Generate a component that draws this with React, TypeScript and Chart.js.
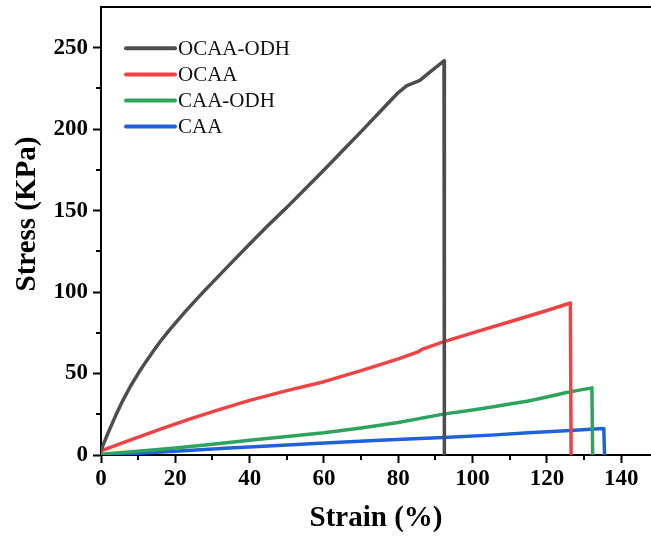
import React, { useEffect, useRef } from "react";
import { Chart, registerables } from "chart.js";

Chart.register(...registerables);

const seriesLabels = ["OCAA-ODH", "OCAA", "CAA-ODH", "CAA"];
const seriesColors = ["#4d4d4d", "#ef4242", "#2ea35e", "#1d63d6"];

const ocaaOdhStrain = [0, 2, 4, 6, 8, 10, 12, 14, 16, 18, 20, 22.5, 25, 28, 31.5, 35, 40, 45, 50, 55, 60, 65, 70, 75, 80, 82.3, 84, 85.8, 89, 92.3, 92.4];
const ocaaOdhStress = [3, 14, 24.5, 34, 42.5, 50, 57, 63.5, 69.8, 75.6, 81, 87.5, 93.8, 101.2, 109.5, 117.8, 129.5, 141, 152, 163.5, 175, 186.8, 198.5, 210.5, 222.5, 226.7, 228.3, 230, 236, 242, 0];

const ocaaStrain = [0, 8, 16, 24, 32, 40, 50, 60, 70, 80, 85.5, 86.5, 92.1, 100, 110, 120, 126.3, 126.5];
const ocaaStress = [2.5, 9.3, 15.9, 22.2, 28, 33.5, 39.5, 45, 51.8, 59, 63.5, 65, 69.4, 75, 81.8, 88.7, 93.3, 0];

const caaOdhStrain = [0, 10, 20, 30, 40, 50, 60, 70, 80, 92.1, 100, 105.6, 110, 115, 120, 125, 128, 132.1, 132.3];
const caaOdhStress = [0.5, 2.3, 4.3, 6.6, 9, 11.4, 13.7, 16.6, 20, 25.1, 27.6, 29.6, 31.3, 33.2, 35.6, 38.2, 39.5, 41.2, 0];

const caaStrain = [0, 10, 20, 33.3, 45, 58.9, 75, 92.1, 105, 115, 125, 135.3, 135.5];
const caaStress = [0, 1.1, 2.3, 4.1, 5.5, 7.2, 9, 10.8, 12.2, 13.6, 14.9, 16.3, 0];

const xTickValues = [0, 20, 40, 60, 80, 100, 120, 140];
const yTickValues = [0, 50, 100, 150, 200, 250];
const xMinorTicks = [10, 30, 50, 70, 90, 110, 130];
const yMinorTicks = [25, 75, 125, 175, 225];

const xTitle = "Strain (%)";
const yTitle = "Stress (KPa)";

const SERIF = '"Liberation Serif", "Times New Roman", serif';

function pairs(xs: number[], ys: number[]) {
  return xs.map((x, i) => ({ x, y: ys[i] }));
}

const framePlugin = {
  id: "frameAndLegend",
  afterDraw(chart: any) {
    const { ctx, chartArea, scales } = chart;
    const { left, right, top, bottom } = chartArea;
    const x = scales.x;
    const y = scales.y;
    ctx.save();
    ctx.strokeStyle = "#000";
    ctx.lineWidth = 2;
    ctx.beginPath();
    ctx.moveTo(left - 1, top);
    ctx.lineTo(right, top);
    for (const v of xMinorTicks) {
      const px = Math.round(x.getPixelForValue(v));
      ctx.moveTo(px, bottom);
      ctx.lineTo(px, bottom + 5);
    }
    for (const v of yMinorTicks) {
      const py = Math.round(y.getPixelForValue(v));
      ctx.moveTo(left, py);
      ctx.lineTo(left - 5, py);
    }
    ctx.stroke();

    // legend
    const ds = chart.data.datasets;
    ctx.font = `21px ${SERIF}`;
    ctx.textBaseline = "middle";
    ctx.textAlign = "left";
    ds.forEach((d: any, i: number) => {
      const cy = top + 41.3 + i * 26.1;
      ctx.strokeStyle = d.borderColor;
      ctx.lineWidth = 4;
      ctx.lineCap = "round";
      ctx.beginPath();
      ctx.moveTo(left + 25, cy);
      ctx.lineTo(left + 74, cy);
      ctx.stroke();
      ctx.fillStyle = "#111";
      ctx.fillText(d.label, left + 77, cy + 1);
    });

    // y title
    ctx.translate(28, 214);
    ctx.rotate(-Math.PI / 2);
    ctx.font = `bold 29px ${SERIF}`;
    ctx.textAlign = "center";
    ctx.textBaseline = "middle";
    ctx.fillStyle = "#000";
    ctx.fillText(yTitle, 0, 0);
    ctx.restore();
  },
};

export default function App() {
  const canvasRef = useRef<HTMLCanvasElement | null>(null);

  useEffect(() => {
    const canvas = canvasRef.current;
    if (!canvas) return;
    const xs = [ocaaOdhStrain, ocaaStrain, caaOdhStrain, caaStrain];
    const ys = [ocaaOdhStress, ocaaStress, caaOdhStress, caaStress];
    const chart = new Chart(canvas, {
      type: "line",
      data: {
        datasets: seriesLabels.map((label, i) => ({
          label,
          data: pairs(xs[i], ys[i]),
          borderColor: seriesColors[i],
          backgroundColor: seriesColors[i],
          borderWidth: 3.5,
          pointRadius: 0,
          tension: 0,
          fill: false,
          borderJoinStyle: "round",
        })),
      },
      options: {
        animation: false,
        responsive: true,
        maintainAspectRatio: false,
        layout: { padding: { top: 7, right: 0, left: 0, bottom: 0 } },
        plugins: {
          legend: { display: false },
          tooltip: { enabled: false },
        },
        scales: {
          x: {
            type: "linear",
            min: 0,
            max: 148,
            afterBuildTicks: (scale: any) => {
              scale.ticks = xTickValues.map((v) => ({ value: v }));
            },
            afterFit: (scale: any) => {
              scale.height = 82;
              scale.paddingLeft = 0;
              scale.paddingRight = 0;
            },
            ticks: {
              font: { family: SERIF, size: 23, weight: "bold" },
              color: "#000",
              padding: 2,
              maxRotation: 0,
              autoSkip: false,
            },
            grid: {
              drawOnChartArea: false,
              drawTicks: true,
              tickLength: 8,
              tickWidth: 2,
              tickColor: "#000",
            },
            border: { display: true, color: "#000", width: 2 },
            title: {
              display: true,
              text: xTitle,
              font: { family: SERIF, size: 29, weight: "bold" },
              color: "#000",
              padding: { top: 0, bottom: 1 },
            },
          },
          y: {
            type: "linear",
            min: 0,
            max: 275,
            afterBuildTicks: (scale: any) => {
              scale.ticks = yTickValues.map((v) => ({ value: v }));
            },
            afterFit: (scale: any) => {
              scale.width = 101;
              scale.paddingTop = 0;
              scale.paddingBottom = 0;
            },
            ticks: {
              font: { family: SERIF, size: 23, weight: "bold" },
              color: "#000",
              padding: 5,
              autoSkip: false,
            },
            grid: {
              drawOnChartArea: false,
              drawTicks: true,
              tickLength: 8,
              tickWidth: 2,
              tickColor: "#000",
            },
            border: { display: true, color: "#000", width: 2 },
            title: { display: false },
          },
        },
      },
      plugins: [framePlugin],
    } as any);
    return () => chart.destroy();
  }, []);

  return (
    <div
      style={{
        position: "fixed",
        left: 0,
        top: 0,
        width: 651,
        height: 537,
        background: "#fff",
      }}
    >
      <canvas ref={canvasRef} />
    </div>
  );
}
